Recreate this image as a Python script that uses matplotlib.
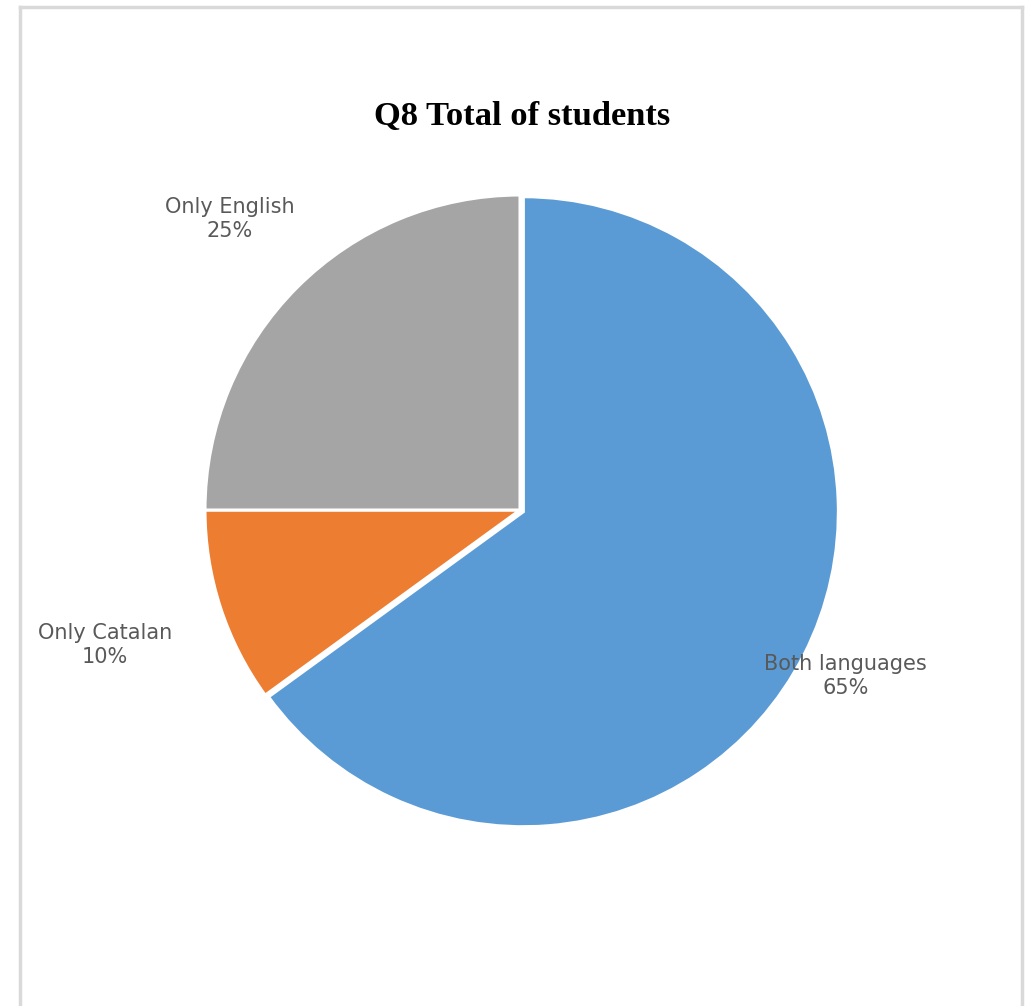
import numpy as np
import matplotlib.pyplot as plt
from matplotlib.lines import Line2D

categorias = ["Both languages", "Only Catalan", "Only English"]
porcentajes = [65, 10, 25]
colores = ["#5B9BD5", "#ED7D31", "#A5A5A5"]
# distancia de cada etiqueta al centro (en radios)
dist_etiqueta = [1.16, 1.385, 1.305]
explode = [0.012, 0, 0]

W, H = 1030, 1006
fig = plt.figure(figsize=(W / 100, H / 100), dpi=100)

# marco gris del gráfico (izquierda, arriba, derecha)
borde = "#D9D9D9"
fig.add_artist(Line2D([20 / W, 20 / W], [0, 1 - 7 / H], color=borde, lw=2.5, transform=fig.transFigure))
fig.add_artist(Line2D([20 / W, 1022 / W], [1 - 7 / H, 1 - 7 / H], color=borde, lw=2.5, transform=fig.transFigure))
fig.add_artist(Line2D([1022 / W, 1022 / W], [0, 1 - 7 / H], color=borde, lw=2.5, transform=fig.transFigure))

# centro de la tarta en (520, 510) px, radio 315 px
cx, cy, r = 520, 510, 315
ax = fig.add_axes([(cx - r) / W, 1 - (cy + r) / H, 2 * r / W, 2 * r / H])

wedges, _ = ax.pie(porcentajes, colors=colores, startangle=90, counterclock=False,
                   explode=explode, radius=1,
                   wedgeprops=dict(edgecolor="white", linewidth=2.2))
ax.set_xlim(-1, 1)
ax.set_ylim(-1, 1)
ax.axis("off")

for w, cat, pct, d in zip(wedges, categorias, porcentajes, dist_etiqueta):
    ang = np.deg2rad((w.theta1 + w.theta2) / 2)
    ax.text(d * np.cos(ang), d * np.sin(ang), f"{cat}\n{pct}%",
            ha="center", va="center", fontsize=15, color="#595959",
            family="DejaVu Sans", linespacing=1.25, clip_on=False)

fig.text(522 / W, 1 - 117 / H, "Q8 Total of students", ha="center", va="center",
         fontsize=24.8, fontweight="bold", family="Liberation Serif")

fig.savefig("out.png", dpi=100)
